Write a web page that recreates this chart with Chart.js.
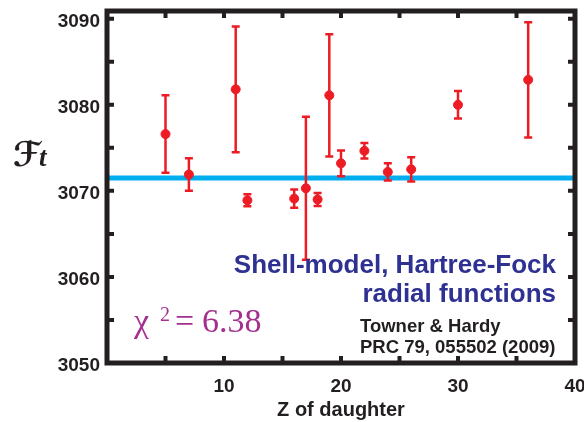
<!DOCTYPE html>
<html>
<head>
<meta charset="utf-8">
<script src="https://cdn.jsdelivr.net/npm/chart.js@4.4.1/dist/chart.umd.min.js"></script>
<style>
  html, body { margin: 0; padding: 0; background: #fff; }
</style>
</head>
<body>
<canvas id="myChart" width="584" height="422"></canvas>
<script>
// Z of daughter nucleus, corrected Ft values and their uncertainties
const daughterZ = [5, 7, 11, 12, 16, 17, 18, 19, 20, 22, 24, 26, 30, 36];
const ftValues = [3076.6, 3071.9, 3081.8, 3068.9, 3069.1, 3070.3, 3069.0, 3081.1, 3073.2, 3074.65, 3072.2, 3072.5, 3080.0, 3082.9];
const ftErrors = [4.5, 1.9, 7.3, 0.7, 1.05, 8.3, 0.75, 7.1, 1.5, 0.9, 1.0, 1.4, 1.6, 6.7];

// average Ft (horizontal band)
const averageZ = [0, 40];
const averageFt = [3071.5, 3071.5];

// axis ticks (major labelled, minor every 5)
const xTicks = [0, 5, 10, 15, 20, 25, 30, 35, 40];
const xLabels = [10, 20, 30, 40];
const yTicks = [3050, 3055, 3060, 3065, 3070, 3075, 3080, 3085, 3090];
const yLabels = [3050, 3060, 3070, 3080, 3090];

const ink = '#231f20';
const red = '#ed1c24';

const errorBars = {
    id: 'errorBars',
    beforeDatasetDraw(chart, args) {
        if (args.index !== 0) return;
        const ctx = chart.ctx;
        const xs = chart.scales.x, ys = chart.scales.y;
        ctx.save();
        ctx.strokeStyle = red;
        ctx.lineWidth = 2.5;
        for (let i = 0; i < daughterZ.length; i++) {
            const x = xs.getPixelForValue(daughterZ[i]);
            const top = ys.getPixelForValue(ftValues[i] + ftErrors[i]);
            const bot = ys.getPixelForValue(ftValues[i] - ftErrors[i]);
            ctx.beginPath();
            ctx.moveTo(x, top); ctx.lineTo(x, bot);
            ctx.moveTo(x - 4, top); ctx.lineTo(x + 4, top);
            ctx.moveTo(x - 4, bot); ctx.lineTo(x + 4, bot);
            ctx.stroke();
        }
        ctx.restore();
    }
};

const frameAndText = {
    id: 'frameAndText',
    afterDraw(chart) {
        const ctx = chart.ctx;
        const a = chart.chartArea;
        const xs = chart.scales.x, ys = chart.scales.y;
        ctx.save();
        ctx.strokeStyle = ink;
        ctx.lineWidth = 4;
        // inward ticks on all four sides
        xTicks.slice(1, -1).forEach(v => {
            const x = xs.getPixelForValue(v);
            ctx.beginPath();
            ctx.moveTo(x, a.bottom); ctx.lineTo(x, a.bottom - 7);
            ctx.moveTo(x, a.top); ctx.lineTo(x, a.top + 7);
            ctx.stroke();
        });
        yTicks.forEach(v => {
            const y = ys.getPixelForValue(v);
            ctx.beginPath();
            ctx.moveTo(a.left, y); ctx.lineTo(a.left + 7, y);
            ctx.moveTo(a.right, y); ctx.lineTo(a.right - 7, y);
            ctx.stroke();
        });
        ctx.lineWidth = 5;
        ctx.strokeRect(a.left, a.top, a.right - a.left, a.bottom - a.top);

        // y axis symbol
        ctx.fillStyle = ink;
        ctx.textBaseline = 'alphabetic';
        ctx.textAlign = 'left';
        ctx.font = 'bold italic 34px "DejaVu Sans"';
        ctx.fillText('ℱ', 13, 166);
        ctx.font = 'bold italic 27px "Liberation Serif"';
        ctx.fillText('t', 39, 166);

        // annotations
        ctx.textAlign = 'right';
        ctx.fillStyle = '#2e3192';
        ctx.font = 'bold 26px "Liberation Sans"';
        ctx.fillText('Shell-model, Hartree-Fock', 556, 273);
        ctx.fillText('radial functions', 556, 302);

        ctx.textAlign = 'left';
        ctx.fillStyle = ink;
        ctx.font = 'bold 18.5px "Liberation Sans"';
        ctx.fillText('Towner & Hardy', 360, 332);
        ctx.fillText('PRC 79, 055502 (2009)', 360, 353);

        ctx.fillStyle = '#a3308f';
        ctx.font = '34px "Liberation Serif"';
        ctx.fillText('χ', 134, 332);
        ctx.font = '20px "Liberation Serif"';
        ctx.fillText('2', 160, 321);
        ctx.font = '34px "Liberation Serif"';
        ctx.fillText('=', 175, 332);
        ctx.fillText('6.38', 202, 332);
        ctx.restore();
    }
};

const tickFont = { family: 'Liberation Sans', weight: 'bold', size: 19 };

const config = {
    type: 'scatter',
    data: {
        datasets: [{
            label: 'Ft',
            data: daughterZ.map((z, i) => ({ x: z, y: ftValues[i] })),
            backgroundColor: red,
            borderColor: red,
            pointRadius: 4.5,
            pointHoverRadius: 4.5,
            order: 0
        }, {
            type: 'line',
            label: 'average',
            data: averageZ.map((z, i) => ({ x: z, y: averageFt[i] })),
            borderColor: '#00aeef',
            borderWidth: 5,
            pointRadius: 0,
            fill: false,
            order: 1
        }]
    },
    options: {
        responsive: false,
        animation: false,
        devicePixelRatio: 1,
        layout: { padding: { top: 11, right: 9, left: 0, bottom: 0 } },
        plugins: {
            legend: { display: false },
            tooltip: { enabled: false }
        },
        scales: {
            x: {
                type: 'linear',
                min: 0,
                max: 40,
                grid: { display: false, drawTicks: false },
                border: { display: false },
                afterBuildTicks(scale) { scale.ticks = xTicks.map(v => ({ value: v })); },
                afterFit(scale) {
                    scale.height = 59;
                    scale.paddingLeft = 0;
                    scale.paddingRight = 0;
                },
                ticks: {
                    autoSkip: false,
                    maxRotation: 0,
                    padding: 12,
                    color: ink,
                    font: tickFont,
                    callback: v => xLabels.includes(v) ? String(v) : ''
                },
                title: {
                    display: true,
                    text: 'Z of daughter',
                    color: ink,
                    font: { family: 'Liberation Sans', weight: 'bold', size: 20 },
                    padding: { top: 0, bottom: 0 }
                }
            },
            y: {
                min: 3050,
                max: 3090.9,
                grid: { display: false, drawTicks: false },
                border: { display: false },
                afterBuildTicks(scale) { scale.ticks = yTicks.map(v => ({ value: v })); },
                afterFit(scale) {
                    scale.width = 107;
                    scale.paddingTop = 0;
                    scale.paddingBottom = 0;
                },
                ticks: {
                    autoSkip: false,
                    padding: 7,
                    labelOffset: 3,
                    color: ink,
                    font: tickFont,
                    callback: v => yLabels.includes(v) ? String(v) : ''
                }
            }
        }
    },
    plugins: [errorBars, frameAndText]
};

const myChart = new Chart(document.getElementById('myChart'), config);
</script>
</body>
</html>
